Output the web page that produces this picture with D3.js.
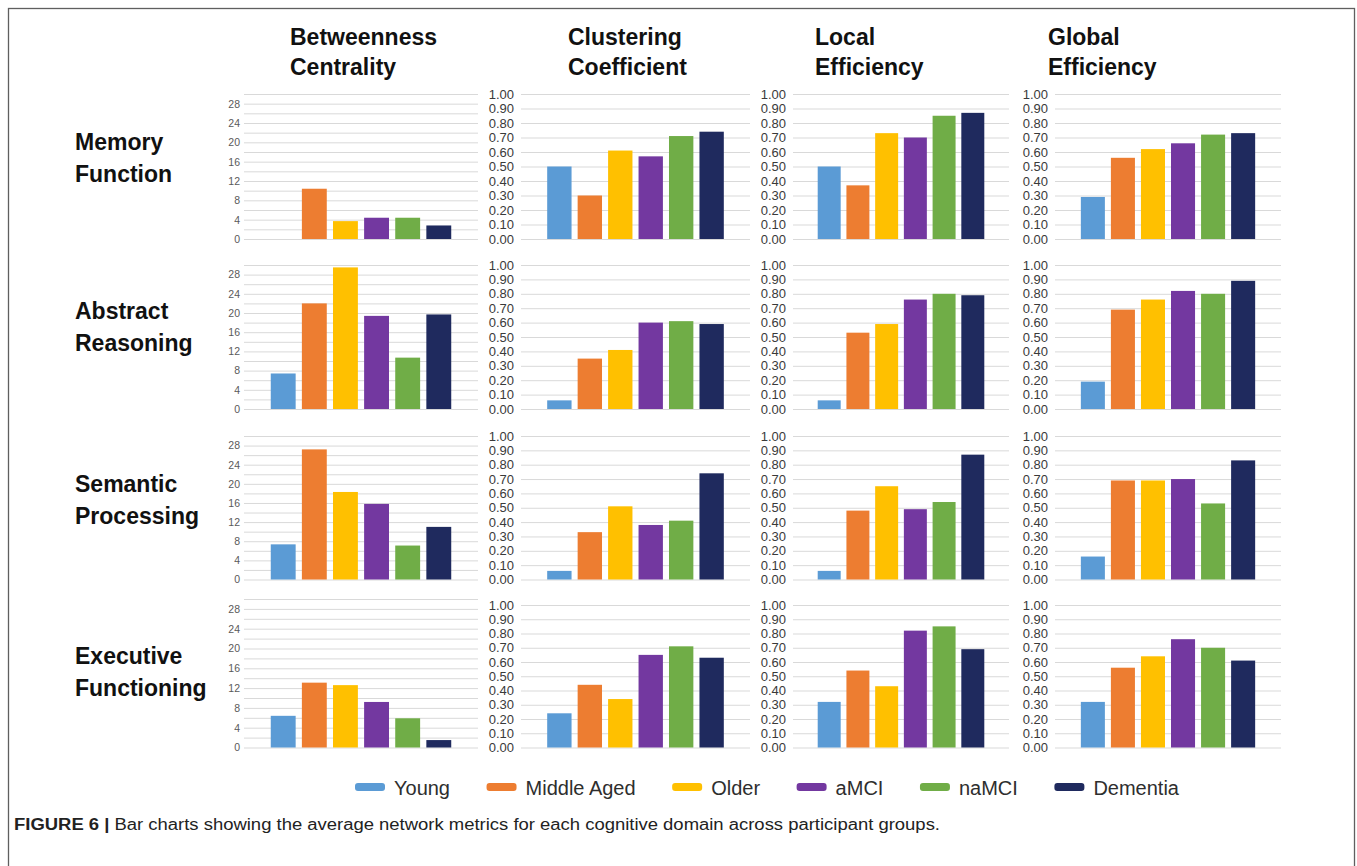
<!DOCTYPE html>
<html>
<head>
<meta charset="utf-8">
<script src="https://cdn.jsdelivr.net/npm/d3@7"></script>
<style>
  html, body { margin: 0; padding: 0; background: #ffffff; }
  svg { display: block; font-family: "Liberation Sans", Arial, sans-serif; }
</style>
</head>
<body>
<svg id="fig" width="1357" height="866"></svg>
<script>
// Participant groups and their bar colours
const groups = ["Young", "Middle Aged", "Older", "aMCI", "naMCI", "Dementia"];
const groupColors = ["#5b9bd5", "#ed7d31", "#ffc000", "#7338a0", "#70ad47", "#1f2a5e"];

// Cognitive domains (rows) and network metrics (columns)
const domains = [["Memory", "Function"], ["Abstract", "Reasoning"], ["Semantic", "Processing"], ["Executive", "Functioning"]];
const metrics = [["Betweenness", "Centrality"], ["Clustering", "Coefficient"], ["Local", "Efficiency"], ["Global", "Efficiency"]];

// Average metric per domain (rows) and group (columns)
const betweenness = [
  [0, 10.4, 3.7, 4.4, 4.4, 2.8],
  [7.4, 22.0, 29.5, 19.4, 10.7, 19.7],
  [7.35, 27.2, 18.3, 15.8, 7.1, 11.0],
  [6.4, 13.1, 12.6, 9.2, 5.9, 1.5]
];
const clustering = [
  [0.50, 0.30, 0.61, 0.57, 0.71, 0.74],
  [0.06, 0.35, 0.41, 0.60, 0.61, 0.59],
  [0.06, 0.33, 0.51, 0.38, 0.41, 0.74],
  [0.24, 0.44, 0.34, 0.65, 0.71, 0.63]
];
const localEfficiency = [
  [0.50, 0.37, 0.73, 0.70, 0.85, 0.87],
  [0.06, 0.53, 0.59, 0.76, 0.80, 0.79],
  [0.06, 0.48, 0.65, 0.49, 0.54, 0.87],
  [0.32, 0.54, 0.43, 0.82, 0.85, 0.69]
];
const globalEfficiency = [
  [0.29, 0.56, 0.62, 0.66, 0.72, 0.73],
  [0.19, 0.69, 0.76, 0.82, 0.80, 0.89],
  [0.16, 0.69, 0.69, 0.70, 0.53, 0.83],
  [0.32, 0.56, 0.64, 0.76, 0.70, 0.61]
];

// Axis ticks: betweenness uses a 0–30 scale, the rest 0–1
const betweennessLabels = [0, 4, 8, 12, 16, 20, 24, 28];
const betweennessGrid = [0, 2, 4, 6, 8, 10, 12, 14, 16, 18, 20, 22, 24, 26, 28, 30];
const unitTicks = [0, 0.1, 0.2, 0.3, 0.4, 0.5, 0.6, 0.7, 0.8, 0.9, 1.0];

const captionLabel = "FIGURE 6 |";
const captionText = " Bar charts showing the average network metrics for each cognitive domain across participant groups.";

const metricData = [betweenness, clustering, localEfficiency, globalEfficiency];

// ---- layout ----
const svg = d3.select("#fig");

// figure frame
svg.append("rect")
  .attr("x", 8.5).attr("y", 8.5)
  .attr("width", 1346).attr("height", 870)
  .attr("fill", "none").attr("stroke", "#5f5f5f").attr("stroke-width", 1.3);

const cols = [
  { x0: 244, x1: 478, titleX: 290, max: 30, labels: betweennessLabels, grid: betweennessGrid, fmt: d3.format("d"), fs: 10.5, fc: "#5a5a5a" },
  { x0: 521, x1: 750, titleX: 568, max: 1, labels: unitTicks, grid: unitTicks, fmt: d3.format(".2f"), fs: 13, fc: "#3a3a3a" },
  { x0: 793, x1: 1009, titleX: 815, max: 1, labels: unitTicks, grid: unitTicks, fmt: d3.format(".2f"), fs: 13, fc: "#3a3a3a" },
  { x0: 1055, x1: 1281, titleX: 1048, max: 1, labels: unitTicks, grid: unitTicks, fmt: d3.format(".2f"), fs: 13, fc: "#3a3a3a" }
];
const rows = [
  { top: 94, bottom: 239, labelY: 150 },
  { top: 265, bottom: 409, labelY: 319 },
  { top: 436, bottom: 579.5, labelY: 492 },
  { top: 605, bottom: 747.5, labelY: 664, topFirst: 599 }
];

// column headings
metrics.forEach((m, ci) => {
  const t = svg.append("text")
    .attr("x", cols[ci].titleX).attr("y", 45)
    .attr("font-size", 23).attr("font-weight", "bold").attr("fill", "#111");
  m.forEach((line, li) => t.append("tspan").attr("x", cols[ci].titleX).attr("dy", li === 0 ? 0 : 29.5).text(line));
});

// row headings
domains.forEach((d, ri) => {
  const t = svg.append("text")
    .attr("x", 75).attr("y", rows[ri].labelY)
    .attr("font-size", 23).attr("font-weight", "bold").attr("fill", "#111");
  d.forEach((line, li) => t.append("tspan").attr("x", 75).attr("dy", li === 0 ? 0 : 31.5).text(line));
});

// panels
rows.forEach((r, ri) => {
  cols.forEach((c, ci) => {
    const top = (ci === 0 && r.topFirst) ? r.topFirst : r.top;
    const y = d3.scaleLinear().domain([0, c.max]).range([r.bottom, top]);
    const x = d3.scaleBand().domain(groups).range([c.x0, c.x1]).paddingInner(0.2).paddingOuter(0.86);
    const g = svg.append("g");

    // gridlines
    g.append("g")
      .attr("transform", `translate(${c.x0},0)`)
      .call(d3.axisLeft(y).tickValues(c.grid).tickSize(-(c.x1 - c.x0)).tickFormat(""))
      .call(a => a.select(".domain").remove())
      .call(a => a.selectAll(".tick line").attr("stroke", "#d9d9d9").attr("stroke-width", 1));

    // tick labels
    g.append("g")
      .attr("transform", `translate(${c.x0},0)`)
      .call(d3.axisLeft(y).tickValues(c.labels).tickSize(0).tickPadding(ci === 0 ? 4 : 7).tickFormat(c.fmt))
      .call(a => a.select(".domain").remove())
      .call(a => a.selectAll("text")
        .attr("font-family", "'Liberation Sans', Arial, sans-serif")
        .attr("font-size", c.fs).attr("fill", c.fc));

    // bars
    const vals = metricData[ci][ri];
    g.selectAll("rect.bar")
      .data(groups.map((gr, i) => ({ gr, v: vals[i], i })))
      .join("rect")
      .attr("class", "bar")
      .attr("x", d => x(d.gr))
      .attr("width", x.bandwidth())
      .attr("y", d => y(d.v))
      .attr("height", d => y(0) - y(d.v))
      .attr("fill", d => groupColors[d.i]);
  });
});

// legend
const legend = svg.append("g");
const items = legend.selectAll("g").data(groups).join("g");
items.append("rect")
  .attr("width", 30).attr("height", 8).attr("rx", 3).attr("ry", 3)
  .attr("y", 783)
  .attr("fill", (d, i) => groupColors[i]);
items.append("text")
  .attr("x", 39).attr("y", 795)
  .attr("font-size", 20).attr("fill", "#2e2e2e")
  .text(d => d);
const widths = [];
items.select("text").each(function () { widths.push(39 + this.getComputedTextLength()); });
const legStart = 355, legEnd = 1179;
const gap = (legEnd - legStart - d3.sum(widths)) / (groups.length - 1);
let cx = legStart;
items.attr("transform", (d, i) => { const t = `translate(${cx},0)`; cx += widths[i] + gap; return t; });

// caption
const cap = svg.append("text")
  .attr("x", 14).attr("y", 830)
  .attr("font-size", 16).attr("fill", "#222")
  .attr("textLength", 926).attr("lengthAdjust", "spacingAndGlyphs");
cap.append("tspan").attr("font-weight", "bold").text(captionLabel);
cap.append("tspan").text(captionText);
</script>
</body>
</html>
